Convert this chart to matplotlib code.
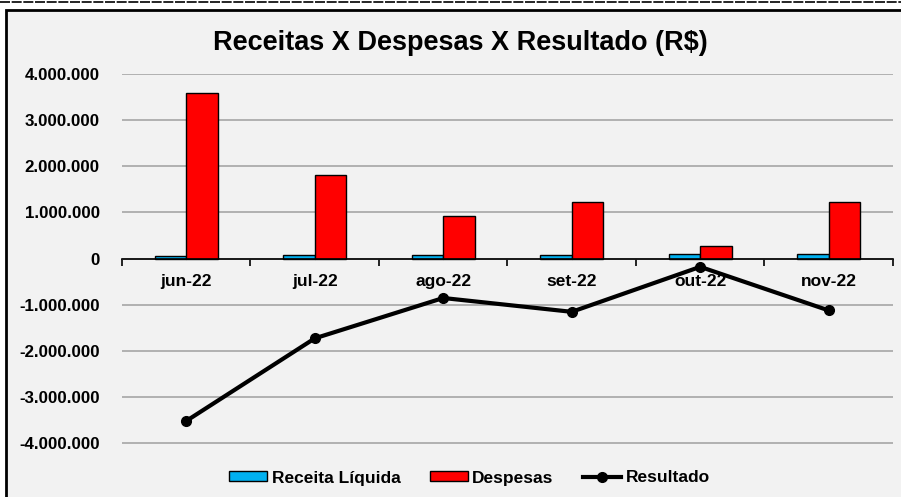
import matplotlib.pyplot as plt
from matplotlib.lines import Line2D
from matplotlib.patches import Rectangle
import numpy as np

plt.rcParams['font.family'] = ['Liberation Sans', 'DejaVu Sans']

meses = ["jun-22", "jul-22", "ago-22", "set-22", "out-22", "nov-22"]
receita = [60000, 70000, 75000, 75000, 100000, 95000]
despesas = [3580000, 1800000, 930000, 1230000, 280000, 1220000]
resultado = [-3520000, -1730000, -855000, -1155000, -180000, -1125000]
yticks = [-4000000, -3000000, -2000000, -1000000, 0, 1000000, 2000000, 3000000, 4000000]


def fmt(v):
    return f"{v:,.0f}".replace(",", ".")


fig = plt.figure(figsize=(9.01, 4.97), dpi=100)
fig.patch.set_facecolor("white")

# chart area box (spreadsheet style)
fig.add_artist(Rectangle((6 / 901, -0.01), 1.0, 1 - 10 / 497 + 0.01,
                         transform=fig.transFigure, facecolor="#f2f2f2",
                         edgecolor="black", linewidth=2, zorder=0))
fig.add_artist(Line2D([0, 1], [1 - 2 / 497, 1 - 2 / 497], transform=fig.transFigure,
                      color="black", linewidth=1.2, linestyle=(0, (6, 1))))

ax = fig.add_axes([0.1354, 0.1047, 0.8557, 0.7465])
ax.set_facecolor("none")

x = np.arange(len(meses))
w = 0.245
b1 = ax.bar(x - w / 2, receita, w, color="#00b0f0", edgecolor="black", linewidth=1, zorder=3,
            label="Receita Líquida")
b2 = ax.bar(x + w / 2, despesas, w, color="#ff0000", edgecolor="black", linewidth=1, zorder=3,
            label="Despesas")
ln, = ax.plot(x, resultado, color="black", linewidth=3, marker="o", markersize=7, zorder=4,
              label="Resultado")

ax.set_xlim(-0.5, len(meses) - 0.5)
ax.set_ylim(-4040000, 4000000)
ax.set_yticks(yticks)
ax.set_yticklabels([fmt(v) for v in yticks], fontsize=12.2, fontweight="bold")
ax.tick_params(axis="y", length=0, pad=16)
ax.grid(axis="y", color="#a6a6a6", linewidth=1.2, zorder=1)
ax.set_axisbelow(True)

for s in ["left", "right", "top"]:
    ax.spines[s].set_visible(False)
ax.spines["bottom"].set_position(("data", 0))
ax.spines["bottom"].set_linewidth(1.2)
ax.spines["bottom"].set_zorder(5)

ax.set_xticks(np.arange(-0.5, len(meses), 1.0))
ax.set_xticklabels([])
ax.tick_params(axis="x", which="major", direction="out", length=5, width=1.2)
ax.set_xticks(x, minor=True)
ax.set_xticklabels(meses, minor=True, fontsize=12.5, fontweight="bold")
ax.tick_params(axis="x", which="minor", length=0, pad=11)

fig.text(0.511, 1 - 43 / 497, "Receitas X Despesas X Resultado (R$)", ha="center", va="center",
         fontsize=19.5, fontweight="bold")

ax.legend([b1, b2, ln], ["Receita Líquida", "Despesas", "Resultado"],
          loc="center", bbox_to_anchor=(0.521, 1 - 478 / 497), bbox_transform=fig.transFigure,
          ncol=3, frameon=False, prop={"weight": "bold", "size": 12.5},
          handlelength=2.2, handleheight=0.5, handletextpad=0.25, columnspacing=1.7)

plt.savefig("out.png", dpi=100)
